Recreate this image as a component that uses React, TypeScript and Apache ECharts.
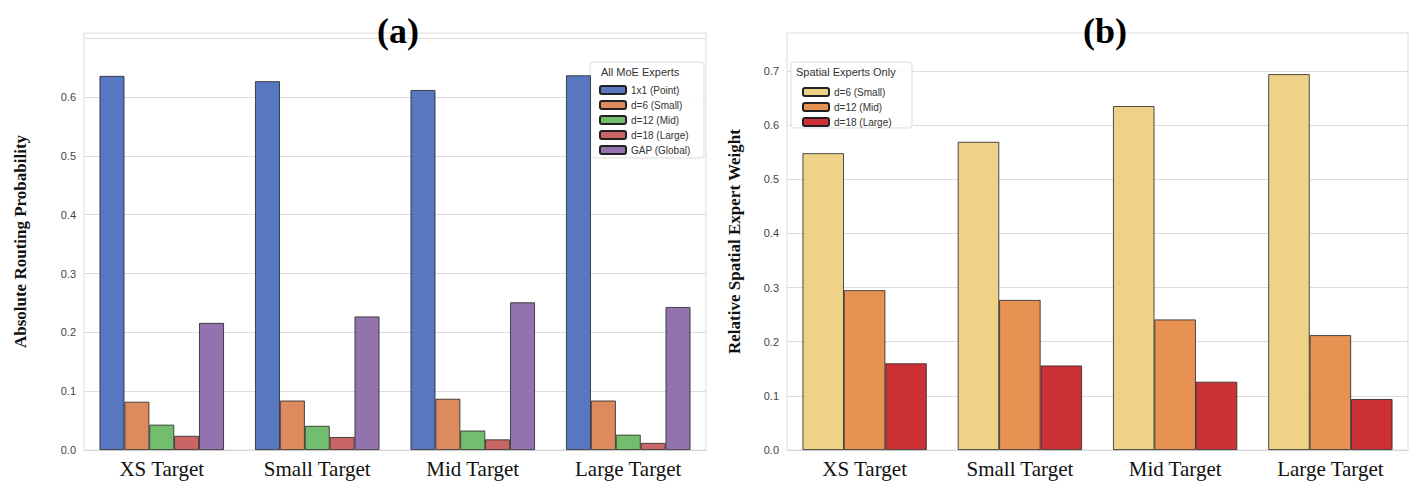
import { useEffect, useRef } from 'react'
import * as echarts from 'echarts'

const categories = ['XS Target', 'Small Target', 'Mid Target', 'Large Target']

const seriesA = ['1x1 (Point)', 'd=6 (Small)', 'd=12 (Mid)', 'd=18 (Large)', 'GAP (Global)']
const colorsA = ['#5777c0', '#dd8a5e', '#72bd6e', '#c96565', '#9273ad']
const point = [0.636, 0.627, 0.612, 0.637]
const small = [0.082, 0.084, 0.087, 0.084]
const mid = [0.043, 0.041, 0.033, 0.026]
const large = [0.024, 0.022, 0.018, 0.012]
const global = [0.216, 0.227, 0.251, 0.243]
const valuesA = [point, small, mid, large, global]

const seriesB = ['d=6 (Small)', 'd=12 (Mid)', 'd=18 (Large)']
const colorsB = ['#edd287', '#e79153', '#cc3135']
const spatialSmall = [0.548, 0.569, 0.635, 0.694]
const spatialMid = [0.295, 0.277, 0.241, 0.212]
const spatialLarge = [0.160, 0.156, 0.126, 0.094]
const valuesB = [spatialSmall, spatialMid, spatialLarge]

export default function App() {
  const ref = useRef<HTMLDivElement | null>(null)

  useEffect(() => {
    document.body.style.margin = '0'
    if (!ref.current) return
    const chart = echarts.init(ref.current, undefined, { renderer: 'svg' })

    const xAxis = (gridIndex: number) => ({
      type: 'category',
      gridIndex,
      data: categories,
      axisTick: { show: false },
      axisLine: { lineStyle: { color: '#d6d6d6' } },
      axisLabel: { color: '#111', fontFamily: 'Liberation Serif, serif', fontSize: 21, margin: 8 }
    })
    const yAxis = (gridIndex: number, max: number, name: string, nameGap: number) => ({
      type: 'value',
      gridIndex,
      min: 0,
      max,
      interval: 0.1,
      name,
      nameLocation: 'middle',
      nameGap,
      nameTextStyle: { color: '#111', fontFamily: 'Liberation Serif, serif', fontSize: 17, fontWeight: 'bold' },
      axisLine: { show: false },
      axisTick: { show: false },
      axisLabel: { color: '#444', fontSize: 11, formatter: (v: number) => (v > max - 0.05 ? '' : v.toFixed(1)) },
      splitLine: { showMaxLine: false, lineStyle: { color: '#dcdcdc' } }
    })

    const barBase = { type: 'bar', barGap: '0%', barCategoryGap: '20%', itemStyle: { borderColor: '#222', borderWidth: 0.8 } }

    chart.setOption({
      animation: false,
      backgroundColor: '#fff',
      title: [
        { text: '(a)', left: 372, top: 8, textStyle: { fontFamily: 'Liberation Serif, serif', fontSize: 36, fontWeight: 'bold', color: '#000' } },
        { text: '(b)', left: 1078, top: 8, textStyle: { fontFamily: 'Liberation Serif, serif', fontSize: 36, fontWeight: 'bold', color: '#000' } }
      ],
      grid: [
        { left: 84, top: 33, width: 622, height: 417, show: true, borderColor: '#dddddd', borderWidth: 1 },
        { left: 787, top: 33, width: 621, height: 417, show: true, borderColor: '#dddddd', borderWidth: 1 }
      ],
      xAxis: [xAxis(0), xAxis(1)],
      yAxis: [
        yAxis(0, 0.709, 'Absolute Routing Probability', 55),
        yAxis(1, 0.77, 'Relative Spatial Expert Weight', 44)
      ],
      legend: [
        {
          data: seriesA, orient: 'vertical', left: 594, top: 80, itemWidth: 26, itemHeight: 8, itemGap: 5, z: 10,
          textStyle: { fontSize: 10, color: '#333' }
        },
        {
          data: seriesB.map((s) => s + ' '), orient: 'vertical', left: 797, top: 82, itemWidth: 26, itemHeight: 8, itemGap: 5, z: 10,
          textStyle: { fontSize: 10, color: '#333' }
        }
      ],
      graphic: [
        { type: 'rect', shape: { x: 590, y: 62, width: 114, height: 96, r: 3 }, style: { fill: 'rgba(255,255,255,0.85)', stroke: '#ddd' }, z: 1 },
        { type: 'text', x: 601, y: 66, style: { text: 'All MoE Experts', fontSize: 11, fill: '#333' }, z: 6 },
        { type: 'rect', shape: { x: 791, y: 62, width: 121, height: 66, r: 3 }, style: { fill: 'rgba(255,255,255,0.85)', stroke: '#ddd' }, z: 1 },
        { type: 'text', x: 796, y: 66, style: { text: 'Spatial Experts Only', fontSize: 11, fill: '#333' }, z: 6 }
      ],
      series: [
        ...seriesA.map((name, i) => ({ ...barBase, name, xAxisIndex: 0, yAxisIndex: 0, data: valuesA[i], itemStyle: { ...barBase.itemStyle, color: colorsA[i] } })),
        ...seriesB.map((name, i) => ({ ...barBase, name: name + ' ', xAxisIndex: 1, yAxisIndex: 1, data: valuesB[i], itemStyle: { ...barBase.itemStyle, color: colorsB[i] } }))
      ]
    })
    return () => chart.dispose()
  }, [])

  return <div ref={ref} style={{ width: 1421, height: 496 }} />
}
